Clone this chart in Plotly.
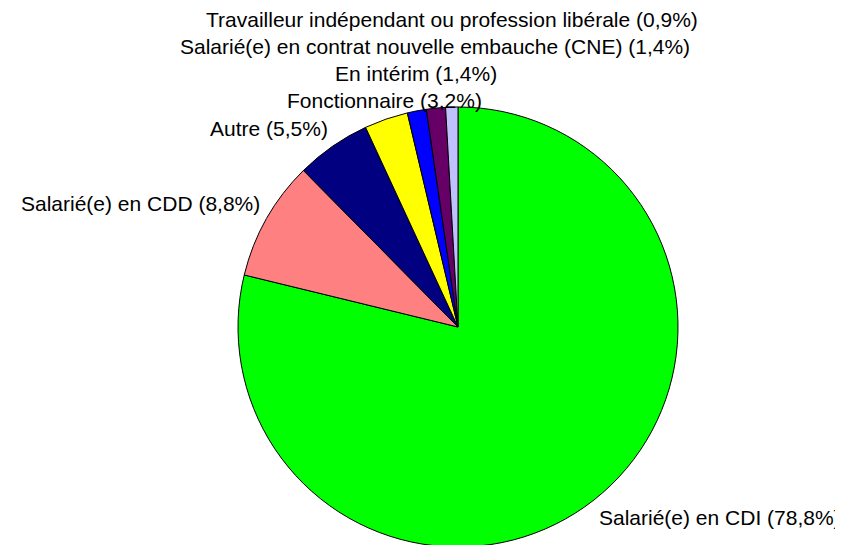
import math
import plotly.graph_objects as go

labels = ["Salarié(e) en CDI", "Salarié(e) en CDD", "Autre", "Fonctionnaire",
          "En intérim", "Salarié(e) en contrat nouvelle embauche (CNE)",
          "Travailleur indépendant ou profession libérale"]
values = [78.8, 8.8, 5.5, 3.2, 1.4, 1.4, 0.9]
colors = ["#00FF00", "#FF8080", "#000080", "#FFFF00", "#0000FF", "#660066", "#C0C0FF"]

W, H = 843, 545
top, bottom = 99, 6
R = (H - top - bottom) / 2.0   # pie radius in px
cx, cy = 450, top + R          # pie centre in px

fig = go.Figure(go.Pie(
    labels=labels, values=values, sort=False, direction="clockwise", rotation=0,
    marker=dict(colors=colors, line=dict(color="black", width=1)),
    textinfo="none", hoverinfo="label+percent", showlegend=False,
    domain=dict(x=[(cx - R) / W, (cx + R) / W], y=[0, 1]),
))

# labels outside the slices, excel style: box corner a few px off the rim,
# small slices at the top get stacked upwards
total = sum(values)
cum = 0
prev_y = None
annots = []
for name, v in zip(labels, values):
    mid = (cum + v / 2) / total * 2 * math.pi
    cum += v
    dx, dy = math.sin(mid), -math.cos(mid)
    px, py = cx + dx * (R + 6), cy + dy * (R + 6)
    yanchor = "top" if dy > 0 else "bottom"
    if abs(dx) < 0.35:
        xanchor = "center"
        if prev_y is not None:
            py = min(py, prev_y - 27.3)
        prev_y = py
    else:
        xanchor = "left" if dx > 0 else "right"
    txt = "%s (%s%%)" % (name, ("%.1f" % v).replace(".", ","))
    annots.append(dict(x=px / W, y=(H - bottom - py) / (H - top - bottom),
                       xref="paper", yref="paper", borderpad=0,
                       text=txt, showarrow=False, xanchor=xanchor, yanchor=yanchor))

fig.update_layout(
    width=W, height=H,
    margin=dict(l=0, r=0, t=top, b=bottom),
    paper_bgcolor="white", plot_bgcolor="white",
    font=dict(family="Liberation Sans, Arial, sans-serif", size=21, color="black"),
    annotations=annots,
)

fig.write_html("out.html")
